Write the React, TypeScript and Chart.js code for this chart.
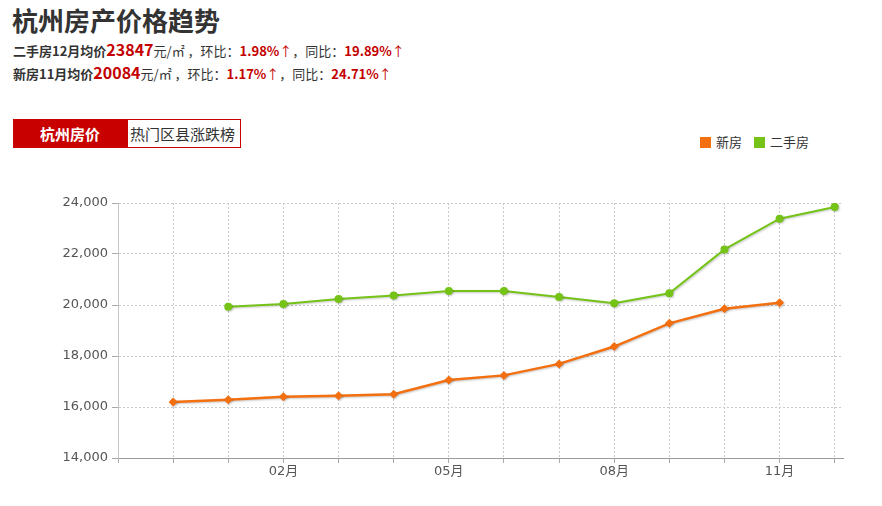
import React, { useEffect, useRef } from "react";
import { Chart, registerables } from "chart.js";

Chart.register(...registerables);

const categories = ["12月", "01月", "02月", "03月", "04月", "05月", "06月", "07月", "08月", "09月", "10月", "11月", "12月"];
const xTickLabels = ["02月", "05月", "08月", "11月"];
const xTickIndices = [2, 5, 8, 11];
const newHouse = [16200, 16280, 16400, 16440, 16500, 17060, 17240, 17690, 18370, 19280, 19852, 20084, null];
const secondHand = [null, 19930, 20040, 20235, 20370, 20550, 20550, 20310, 20065, 20460, 22180, 23384, 23847];
const yTicks = [14000, 16000, 18000, 20000, 22000, 24000];

const ORANGE = "#f36f0f";
const GREEN = "#74c316";
const RED = "#c40000";
const CJK = '"Microsoft YaHei", "Noto Sans CJK SC", sans-serif';

const shadowPlugin = {
  id: "lineShadow",
  beforeDatasetDraw(chart: any) {
    const ctx = chart.ctx;
    ctx.save();
    ctx.shadowColor = "rgba(0,0,0,0.22)";
    ctx.shadowOffsetX = 1;
    ctx.shadowOffsetY = 1;
    ctx.shadowBlur = 2;
  },
  afterDatasetDraw(chart: any) {
    chart.ctx.restore();
  },
};

function toPoints(arr: (number | null)[]) {
  return arr.map((v, i) => ({ x: i, y: v }));
}

export default function App() {
  const ref = useRef<HTMLCanvasElement | null>(null);

  useEffect(() => {
    if (!ref.current) return;
    const chart = new Chart(ref.current, {
      type: "line",
      data: {
        datasets: [
          {
            label: "新房",
            data: toPoints(newHouse) as any,
            borderColor: ORANGE,
            backgroundColor: ORANGE,
            borderWidth: 2.5,
            pointStyle: "rectRot",
            pointRadius: 4.5,
            pointBorderWidth: 0,
            spanGaps: false,
            tension: 0,
          },
          {
            label: "二手房",
            data: toPoints(secondHand) as any,
            borderColor: GREEN,
            backgroundColor: GREEN,
            borderWidth: 2,
            pointStyle: "circle",
            pointRadius: 4,
            pointBorderWidth: 0,
            spanGaps: false,
            tension: 0,
          },
        ],
      },
      options: {
        animation: false,
        responsive: false,
        devicePixelRatio: 1,
        layout: { padding: { top: 33, right: 39, left: 0, bottom: 0 } },
        plugins: {
          legend: { display: false },
          tooltip: { enabled: false },
        },
        scales: {
          x: {
            type: "linear",
            min: -1,
            max: 12.15,
            afterBuildTicks: (scale: any) => {
              scale.ticks = categories.map((_, i) => ({ value: i - 1 })).concat([{ value: categories.length - 1 }]);
            },
            afterFit: (scale: any) => {
              scale.height = 32;
            },
            grid: {
              color: "#c8c8c8",
              tickColor: "#aaa",
              tickLength: 5,
              tickBorderDash: [],
              lineWidth: 1,
            },
            border: { color: "#9a9a9a", width: 1, dash: [2, 2] },
            ticks: {
              autoSkip: false,
              maxRotation: 0,
              padding: 1,
              color: "#555",
              font: { family: '"DejaVu Sans", "Noto Sans CJK SC", sans-serif', size: 13 },
              callback: (v: any) => {
                const k = xTickIndices.indexOf(Number(v));
                return k >= 0 ? xTickLabels[k] : "";
              },
            },
          },
          y: {
            type: "linear",
            min: 14000,
            max: 24000,
            afterBuildTicks: (scale: any) => {
              scale.ticks = yTicks.map((v) => ({ value: v }));
            },
            afterFit: (scale: any) => {
              scale.width = 118;
            },
            grid: {
              color: "#c8c8c8",
              tickColor: "#aaa",
              tickLength: 6,
              tickBorderDash: [],
            },
            border: { color: "#c4c4c4", width: 1, dash: [2, 2] },
            ticks: {
              padding: 4,
              color: "#555",
              font: { family: '"DejaVu Sans", sans-serif', size: 13 },
              callback: (v: any) => Number(v).toLocaleString("en-US"),
            },
          },
        },
      },
      plugins: [shadowPlugin],
    } as any);
    return () => chart.destroy();
  }, []);

  const redB = { color: RED, fontWeight: 700 } as React.CSSProperties;
  const arrow = { color: RED, fontWeight: 400 } as React.CSSProperties;

  return (
    <div style={{ position: "absolute", left: 0, top: 0, width: 882, height: 506, background: "#fff", fontFamily: CJK, color: "#333", overflow: "hidden" }}>
      <div style={{ position: "absolute", left: 12, top: 5, lineHeight: "30px", fontSize: 26, fontWeight: 700, color: "#333", whiteSpace: "nowrap" }}>
        杭州房产价格趋势
      </div>
      <div style={{ position: "absolute", left: 13, top: 39, lineHeight: "20px", fontSize: 13, whiteSpace: "nowrap" }}>
        <span style={{ fontWeight: 700 }}>二手房12月均价</span>
        <span style={{ ...redB, fontSize: 16 }}>23847</span>
        <span>元/㎡ ，环比：</span>
        <span style={redB}>1.98%</span>
        <span style={arrow}>↑</span>
        <span>，同比：</span>
        <span style={redB}>19.89%</span>
        <span style={arrow}>↑</span>
      </div>
      <div style={{ position: "absolute", left: 13, top: 62, lineHeight: "20px", fontSize: 13, whiteSpace: "nowrap" }}>
        <span style={{ fontWeight: 700 }}>新房11月均价</span>
        <span style={{ ...redB, fontSize: 16 }}>20084</span>
        <span>元/㎡ ，环比：</span>
        <span style={redB}>1.17%</span>
        <span style={arrow}>↑</span>
        <span>，同比：</span>
        <span style={redB}>24.71%</span>
        <span style={arrow}>↑</span>
      </div>

      <div style={{ position: "absolute", left: 13, top: 119, width: 114, height: 29, background: "#c80000", color: "#fff", fontWeight: 700, fontSize: 15, lineHeight: "29px", textAlign: "center" }}>
        杭州房价
      </div>
      <div style={{ position: "absolute", left: 127, top: 119, width: 110, height: 27, border: "1px solid #c80000", color: "#333", fontSize: 15, lineHeight: "27px", paddingLeft: 2, boxSizing: "content-box", whiteSpace: "nowrap", overflow: "hidden" }}>
        热门区县涨跌榜
      </div>

      <div style={{ position: "absolute", left: 700, top: 137, width: 11, height: 11, background: ORANGE }} />
      <div style={{ position: "absolute", left: 716, top: 132, fontSize: 13, lineHeight: "20px", color: "#333" }}>新房</div>
      <div style={{ position: "absolute", left: 754, top: 137, width: 11, height: 11, background: GREEN }} />
      <div style={{ position: "absolute", left: 770, top: 132, fontSize: 13, lineHeight: "20px", color: "#333" }}>二手房</div>

      <div style={{ position: "absolute", left: 0, top: 170, width: 882, height: 320 }}>
        <canvas ref={ref} width={882} height={320} style={{ width: 882, height: 320, display: "block" }} />
      </div>
    </div>
  );
}
